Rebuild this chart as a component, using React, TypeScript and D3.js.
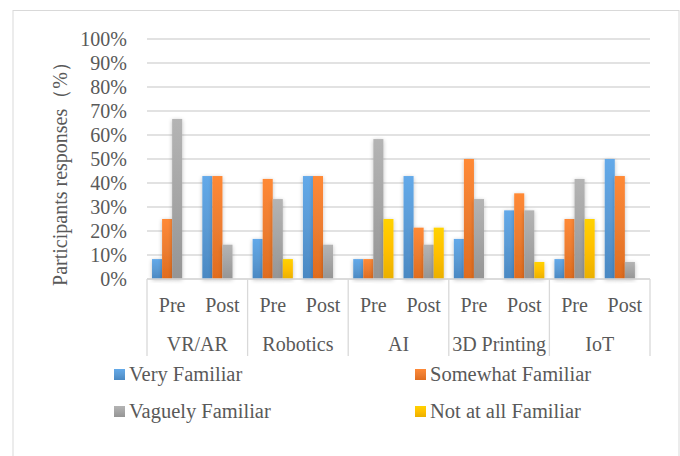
import React from "react";
import * as d3 from "d3";

// technology categories and the two survey rounds
const categories = ["VR/AR", "Robotics", "AI", "3D Printing", "IoT"];
const phases = ["Pre", "Post"];
const seriesNames = ["Very Familiar", "Somewhat Familiar", "Vaguely Familiar", "Not at all Familiar"];
const seriesColors = ["#5B9BD5", "#ED7D31", "#A5A5A5", "#FFC000"];
const seriesDark = ["#4A88C2", "#E06C1E", "#959595", "#EAB000"];

// values per category, [Pre, Post], in %
const veryFamiliar = [[8.3, 42.9], [16.7, 42.9], [8.3, 42.9], [16.7, 28.6], [8.3, 50]];
const somewhatFamiliar = [[25, 42.9], [41.7, 42.9], [8.3, 21.4], [50, 35.7], [25, 42.9]];
const vaguelyFamiliar = [[66.7, 14.3], [33.3, 14.3], [58.3, 14.3], [33.3, 28.6], [41.7, 7.1]];
const notAtAll = [[0, 0], [8.3, 0], [25, 21.4], [0, 7.1], [25, 0]];

const yTicks = [0, 10, 20, 30, 40, 50, 60, 70, 80, 90, 100];

const W = 680;
const H = 456;
const FONT = "'Liberation Serif', 'Times New Roman', serif";
const TEXT = "#595959";

export default function App() {
  const allSeries = [veryFamiliar, somewhatFamiliar, vaguelyFamiliar, notAtAll];

  const y = d3.scaleLinear().domain([0, 100]).range([279, 39]);
  const xCat = d3.scaleBand().domain(categories).range([147, 650]);
  const xPhase = d3.scaleBand().domain(phases).range([0, xCat.bandwidth()]);
  const xSeries = d3
    .scaleBand()
    .domain(seriesNames)
    .range([0, xPhase.bandwidth()])
    .paddingInner(0)
    .paddingOuter(0.5);

  const legendPos = [
    { x: 114, y: 374 },
    { x: 415, y: 374 },
    { x: 114, y: 411 },
    { x: 415, y: 411 },
  ];

  return (
    <div style={{ position: "fixed", left: 0, top: 0 }}>
      <svg width={W} height={H} style={{ display: "block", background: "#fff" }}>
        <defs>
          {seriesColors.map((c, i) => (
            <linearGradient key={i} id={`g${i}`} x1="0" y1="0" x2="0" y2="1">
              <stop offset="0%" stopColor={d3.color(c)!.brighter(0.25).formatHex()} />
              <stop offset="50%" stopColor={c} />
              <stop offset="100%" stopColor={seriesDark[i]} />
            </linearGradient>
          ))}
          <filter id="shadow" x="-50%" y="-20%" width="200%" height="140%">
            <feGaussianBlur in="SourceAlpha" stdDeviation="2" />
            <feOffset dx="0" dy="1" result="b" />
            <feComponentTransfer>
              <feFuncA type="linear" slope="0.25" />
            </feComponentTransfer>
            <feMerge>
              <feMergeNode />
              <feMergeNode in="SourceGraphic" />
            </feMerge>
          </filter>
        </defs>

        {/* outer border */}
        <rect x={13} y={10.5} width={666} height={460} fill="none" stroke="#d9d9d9" strokeWidth={1} />

        {/* gridlines */}
        {yTicks.map((t) => (
          <line key={t} x1={147} x2={650} y1={y(t)} y2={y(t)} stroke="#d9d9d9" strokeWidth={1.3} />
        ))}

        {/* y tick labels */}
        {yTicks.map((t) => (
          <text
            key={t}
            x={127}
            y={y(t)}
            dy="0.35em"
            textAnchor="end"
            fontFamily={FONT}
            fontSize={20}
            fill={TEXT}
          >
            {t}%
          </text>
        ))}

        <text
          transform="translate(60,169) rotate(-90)"
          dy="0.35em"
          textAnchor="middle"
          fontFamily={FONT}
          fontSize={20}
          fill={TEXT}
        >
          Participants responses（%）
        </text>

        {/* bars */}
        {categories.map((cat, ci) =>
          phases.map((ph, pi) =>
            allSeries.map((s, si) => {
              const v = s[ci][pi];
              if (!v) return null;
              const x0 = (xCat(cat) ?? 0) + (xPhase(ph) ?? 0) + (xSeries(seriesNames[si]) ?? 0);
              return (
                <rect
                  key={`${ci}-${pi}-${si}`}
                  x={x0}
                  y={y(v)}
                  width={xSeries.bandwidth()}
                  height={y(0) - y(v)}
                  fill={`url(#g${si})`}
                  filter="url(#shadow)"
                />
              );
            })
          )
        )}

        {/* category axis */}
        <line x1={147} x2={650} y1={279} y2={279} stroke="#d9d9d9" strokeWidth={1.3} />
        {categories.concat([""]).map((c, i) => {
          const xx = i < categories.length ? xCat(c)! : 650;
          return <line key={i} x1={xx} x2={xx} y1={279} y2={356} stroke="#d9d9d9" strokeWidth={1.3} />;
        })}
        {categories.map((cat) =>
          phases.map((ph) => (
            <text
              key={cat + ph}
              x={xCat(cat)! + xPhase(ph)! + xPhase.bandwidth() / 2}
              y={305}
              dy="0.35em"
              textAnchor="middle"
              fontFamily={FONT}
              fontSize={20}
              fill={TEXT}
            >
              {ph}
            </text>
          ))
        )}
        {categories.map((cat) => (
          <text
            key={cat}
            x={xCat(cat)! + xCat.bandwidth() / 2}
            y={343.5}
            dy="0.35em"
            textAnchor="middle"
            fontFamily={FONT}
            fontSize={20}
            fill={TEXT}
          >
            {cat}
          </text>
        ))}

        {/* legend */}
        {seriesNames.map((n, i) => (
          <g key={n} transform={`translate(${legendPos[i].x},${legendPos[i].y})`}>
            <rect x={0} y={-5} width={11} height={11} fill={`url(#g${i})`} />
            <text x={15} y={0} dy="0.35em" fontFamily={FONT} fontSize={20.5} fill={TEXT}>
              {n}
            </text>
          </g>
        ))}
      </svg>
    </div>
  );
}
